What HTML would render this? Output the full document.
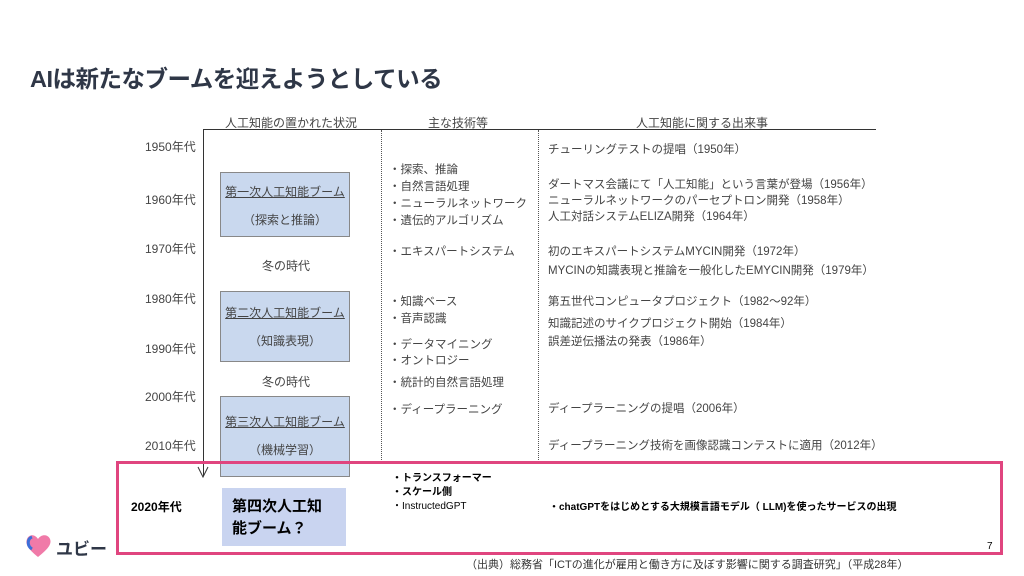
<!DOCTYPE html>
<html><head><meta charset="utf-8"><style>
body{margin:0;width:1024px;height:576px;background:#fff;position:relative;overflow:hidden;font-family:"Liberation Sans","Noto Sans CJK JP",sans-serif;}
.a{position:absolute;white-space:nowrap;}
.g{color:#444;font-size:12px;}
.s{font-size:11.5px;}
.box{position:absolute;background:#c9d8ee;border:1px solid #888;box-sizing:border-box;}
.bt{position:absolute;left:0;right:0;text-align:center;font-size:12px;color:#444;}
</style></head><body>
<div class="a" style="left:30px;top:60px;font-size:23.5px;font-weight:bold;color:#2f3747;letter-spacing:-0.5px;">AIは新たなブームを迎えようとしている</div>

<div class="a g" style="left:225px;top:114px;">人工知能の置かれた状況</div>
<div class="a g" style="left:428px;top:114px;">主な技術等</div>
<div class="a g" style="left:636px;top:114px;">人工知能に関する出来事</div>
<div class="a" style="left:203px;top:129px;width:673px;height:1px;background:#333;"></div>
<div class="a" style="left:203px;top:129px;width:1px;height:347px;background:#333;"></div>
<svg class="a" style="left:196px;top:465px;" width="14" height="14"><path d="M2 2 L7 12 L12 2" stroke="#333" fill="none" stroke-width="1"/></svg>
<div class="a" style="left:381px;top:130px;height:330px;border-left:1px dotted #555;"></div>
<div class="a" style="left:538px;top:130px;height:330px;border-left:1px dotted #555;"></div>

<div class="a g" style="left:145px;top:138px;">1950年代</div>
<div class="a g" style="left:145px;top:191px;">1960年代</div>
<div class="a g" style="left:145px;top:240px;">1970年代</div>
<div class="a g" style="left:145px;top:290px;">1980年代</div>
<div class="a g" style="left:145px;top:340px;">1990年代</div>
<div class="a g" style="left:145px;top:388px;">2000年代</div>
<div class="a g" style="left:145px;top:437px;">2010年代</div>

<div class="box" style="left:220px;top:172px;width:130px;height:65px;"><div class="bt" style="top:10px;text-decoration:underline;">第一次人工知能ブーム</div><div class="bt" style="top:38px;">（探索と推論）</div></div>
<div class="a g" style="left:262px;top:257px;">冬の時代</div>
<div class="box" style="left:220px;top:291px;width:130px;height:71px;"><div class="bt" style="top:12px;text-decoration:underline;">第二次人工知能ブーム</div><div class="bt" style="top:40px;">（知識表現）</div></div>
<div class="a g" style="left:262px;top:373px;">冬の時代</div>
<div class="box" style="left:220px;top:396px;width:130px;height:81px;"><div class="bt" style="top:16px;text-decoration:underline;">第三次人工知能ブーム</div><div class="bt" style="top:44px;">（機械学習）</div></div>

<div class="a g s" style="left:389px;top:162px;line-height:17px;">・探索、推論<br>・自然言語処理<br>・ニューラルネットワーク</div>
<div class="a g s" style="left:389px;top:212px;">・遺伝的アルゴリズム</div>
<div class="a g s" style="left:389px;top:243px;">・エキスパートシステム</div>
<div class="a g s" style="left:389px;top:294px;line-height:17px;">・知識ベース<br>・音声認識</div>
<div class="a g s" style="left:389px;top:337px;line-height:16px;">・データマイニング<br>・オントロジー</div>
<div class="a g s" style="left:389px;top:374px;">・統計的自然言語処理</div>
<div class="a g s" style="left:389px;top:401px;">・ディープラーニング</div>

<div class="a g s" style="left:548px;top:141px;">チューリングテストの提唱（1950年）</div>
<div class="a g s" style="left:548px;top:177px;line-height:16px;">ダートマス会議にて「人工知能」という言葉が登場（1956年）<br>ニューラルネットワークのパーセプトロン開発（1958年）<br>人工対話システムELIZA開発（1964年）</div>
<div class="a g s" style="left:548px;top:243px;line-height:19px;">初のエキスパートシステムMYCIN開発（1972年）<br>MYCINの知識表現と推論を一般化したEMYCIN開発（1979年）</div>
<div class="a g s" style="left:548px;top:293px;">第五世代コンピュータプロジェクト（1982～92年）</div>
<div class="a g s" style="left:548px;top:315px;line-height:18px;">知識記述のサイクプロジェクト開始（1984年）<br>誤差逆伝播法の発表（1986年）</div>
<div class="a g s" style="left:548px;top:400px;">ディープラーニングの提唱（2006年）</div>
<div class="a g s" style="left:548px;top:437px;">ディープラーニング技術を画像認識コンテストに適用（2012年）</div>

<div class="a" style="left:116px;top:461px;width:887px;height:94px;border:3px solid #e0457f;box-sizing:border-box;"></div>
<div class="a" style="left:131px;top:498px;font-size:12px;font-weight:bold;">2020年代</div>
<div class="a" style="left:222px;top:488px;width:124px;height:58px;background:#c9d4f0;"></div>
<div class="a" style="left:232px;top:496px;font-size:15px;font-weight:bold;line-height:22px;white-space:normal;width:105px;">第四次人工知<br>能ブーム？</div>
<div class="a" style="left:392px;top:472px;font-size:10px;line-height:14px;"><b>・トランスフォーマー<br>・スケール側</b><br>・InstructedGPT</div>
<div class="a" style="left:549px;top:498px;font-size:10px;font-weight:bold;">・chatGPTをはじめとする大規模言語モデル（ LLM)を使ったサービスの出現</div>
<div class="a" style="left:987px;top:541px;font-size:10px;">7</div>
<div class="a" style="left:466px;top:556px;font-size:11px;color:#333;">（出典）総務省「ICTの進化が雇用と働き方に及ぼす影響に関する調査研究」（平成28年）</div>

<svg class="a" style="left:24px;top:533px;" width="30" height="26"><path d="M14 24 C4 16 1 11 3 6 C5 1 11 1 14 6 C17 1 24 1 26 6 C28 11 24 16 14 24Z" fill="#f07aa8"/><path d="M8 4 C3 6 3 13 8 16" stroke="#3c6fd8" stroke-width="3" fill="none"/></svg>
<div class="a" style="left:56px;top:535px;font-size:17px;font-weight:bold;color:#2f3747;">ユビー</div>
</body></html>
